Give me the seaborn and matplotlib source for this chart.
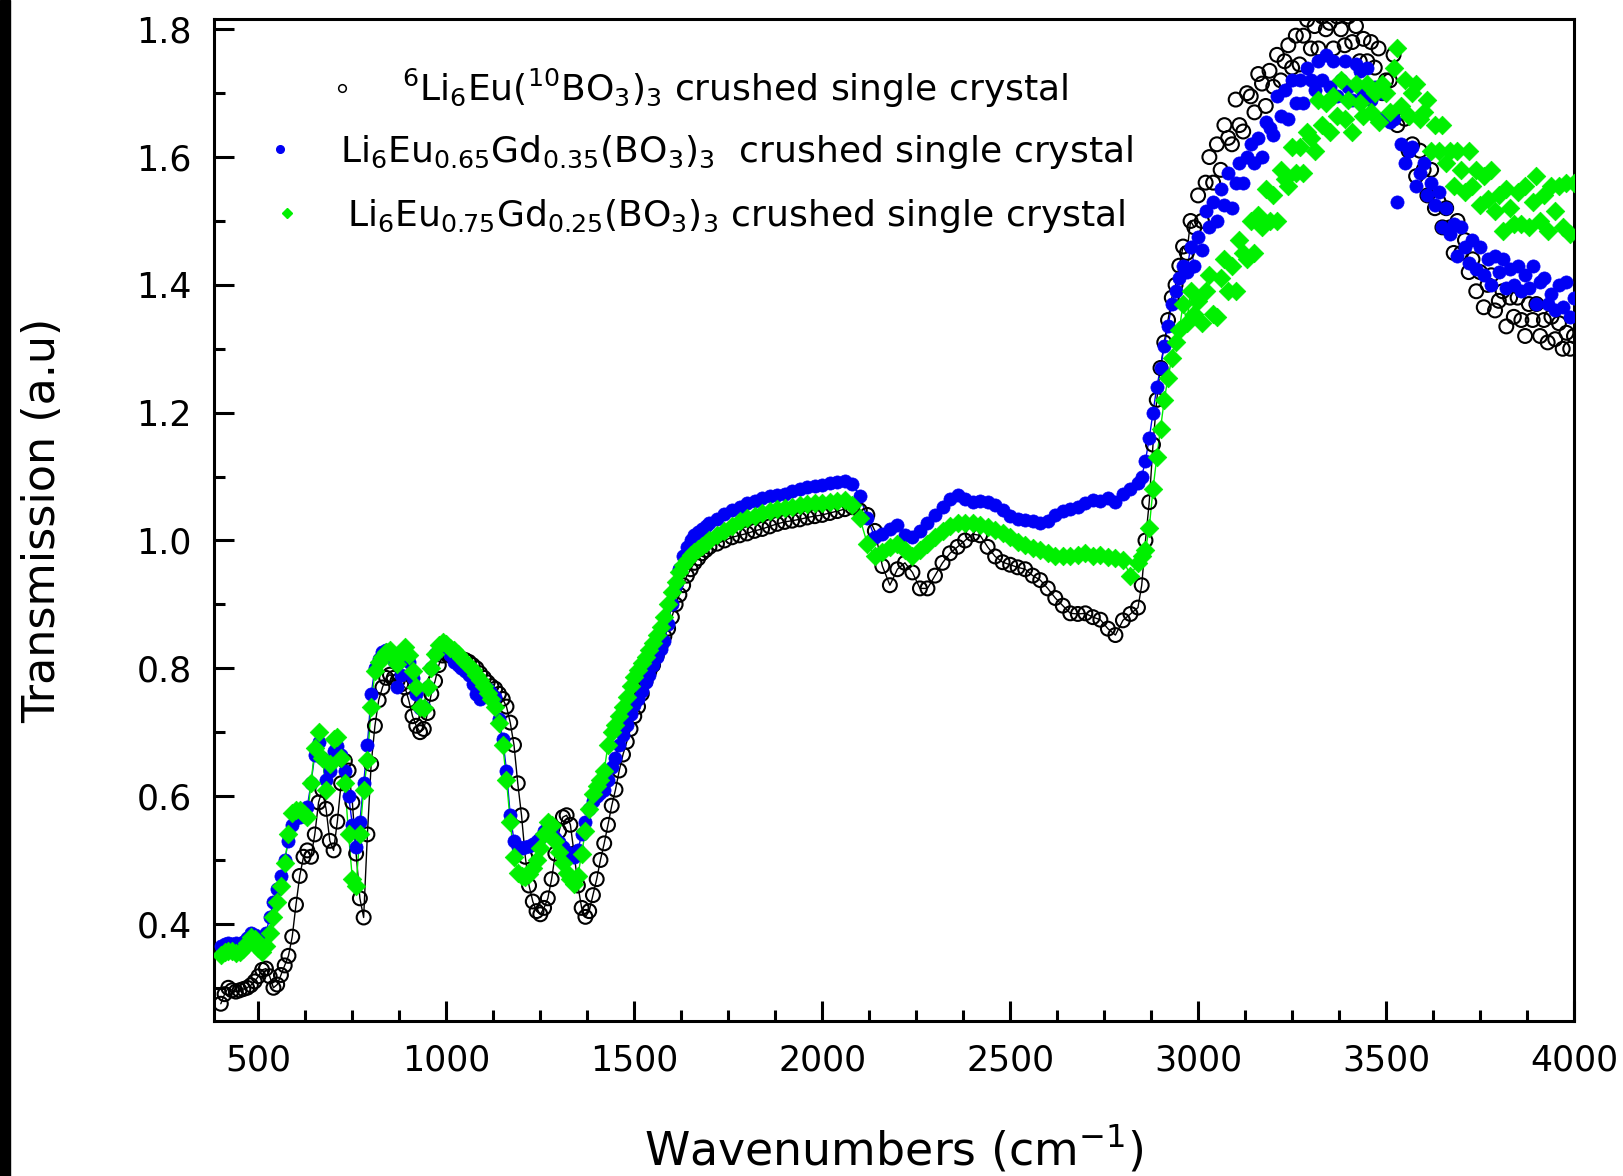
import numpy as np
import pandas as pd
import matplotlib
matplotlib.use("Agg")
import matplotlib.pyplot as plt
import seaborn as sns
from matplotlib.ticker import MultipleLocator, FormatStrFormatter
from matplotlib.lines import Line2D
from matplotlib.legend import Legend
from matplotlib.patches import Rectangle

# ---------------- data ----------------
wn_a = np.arange(400, 1700, 10)    # 400 .. 1690
wn_b = np.arange(1700, 2860, 20)   # 1700 .. 2840
wn_c = np.arange(2850, 4001, 10)   # 2850 .. 4000

black_a = [0.275, 0.290, 0.300, 0.296, 0.294, 0.296, 0.298, 0.300, 0.304, 0.310,
           0.318, 0.328, 0.330, 0.318, 0.300, 0.305, 0.320, 0.335, 0.350, 0.380,
           0.430, 0.475, 0.505, 0.515, 0.505, 0.540, 0.590, 0.610, 0.580, 0.530,
           0.515, 0.560, 0.620, 0.655, 0.640, 0.590, 0.510, 0.440, 0.410, 0.540,
           0.650, 0.710, 0.750, 0.770, 0.785, 0.790, 0.785, 0.780, 0.775, 0.770,
           0.750, 0.725, 0.710, 0.700, 0.705, 0.730, 0.760, 0.780, 0.805, 0.820,
           0.822, 0.820, 0.818, 0.816, 0.815, 0.813, 0.810, 0.805, 0.800, 0.792,
           0.785, 0.778, 0.772, 0.768, 0.760, 0.752, 0.740, 0.715, 0.680, 0.620,
           0.570, 0.505, 0.460, 0.435, 0.420, 0.415, 0.425, 0.440, 0.470, 0.510,
           0.545, 0.567, 0.570, 0.555, 0.510, 0.460, 0.425, 0.411, 0.420, 0.445,
           0.470, 0.500, 0.526, 0.555, 0.585, 0.610, 0.640, 0.665, 0.685, 0.705,
           0.725, 0.740, 0.760, 0.780, 0.795, 0.805, 0.820, 0.835, 0.850, 0.862,
           0.880, 0.900, 0.915, 0.930, 0.945, 0.955, 0.965, 0.972, 0.980, 0.985]
black_b = [0.990, 0.995, 1.000, 1.005, 1.008, 1.011, 1.015, 1.018, 1.022, 1.026,
           1.029, 1.031, 1.033, 1.036, 1.038, 1.040, 1.043, 1.046, 1.049, 1.052,
           1.047, 1.040, 1.015, 0.960, 0.930, 0.955, 0.965, 0.950, 0.925, 0.925,
           0.945, 0.965, 0.980, 0.990, 1.000, 1.010, 1.008, 0.990, 0.975, 0.966,
           0.962, 0.958, 0.955, 0.945, 0.938, 0.925, 0.910, 0.898, 0.886, 0.885,
           0.886, 0.880, 0.876, 0.862, 0.852, 0.875, 0.885, 0.895]
black_c = [0.930, 1.000, 1.060, 1.150, 1.220, 1.270, 1.310, 1.345, 1.380, 1.400,
           1.430, 1.460, 1.450, 1.500, 1.490, 1.540, 1.500, 1.560, 1.600, 1.560,
           1.620, 1.580, 1.650, 1.630, 1.620, 1.690, 1.650, 1.640, 1.700, 1.695,
           1.670, 1.730, 1.715, 1.680, 1.735, 1.710, 1.760, 1.720, 1.750, 1.775,
           1.740, 1.790, 1.745, 1.790, 1.815, 1.770, 1.805, 1.770, 1.820, 1.800,
           1.810, 1.770, 1.820, 1.800, 1.775, 1.820, 1.780, 1.805, 1.750, 1.785,
           1.750, 1.780, 1.740, 1.770, 1.700, 1.720, 1.720, 1.760, 1.650, 1.670,
           1.660, 1.610, 1.620, 1.570, 1.610, 1.580, 1.540, 1.580, 1.520, 1.530,
           1.490, 1.520, 1.490, 1.450, 1.500, 1.450, 1.470, 1.420, 1.440, 1.390,
           1.420, 1.365, 1.400, 1.415, 1.360, 1.375, 1.390, 1.335, 1.380, 1.350,
           1.380, 1.345, 1.320, 1.370, 1.345, 1.370, 1.320, 1.345, 1.310, 1.350,
           1.315, 1.340, 1.300, 1.325, 1.300, 1.320]

blue_a = [0.365, 0.368, 0.370, 0.368, 0.370, 0.368, 0.372, 0.378, 0.385, 0.383,
          0.376, 0.372, 0.385, 0.410, 0.435, 0.455, 0.475, 0.500, 0.530, 0.555,
          0.565, 0.567, 0.572, 0.583, 0.620, 0.665, 0.685, 0.660, 0.625, 0.640,
          0.670, 0.678, 0.665, 0.640, 0.600, 0.555, 0.520, 0.560, 0.620, 0.680,
          0.760, 0.800, 0.815, 0.826, 0.828, 0.822, 0.812, 0.770, 0.790, 0.822,
          0.810, 0.785, 0.760, 0.738, 0.740, 0.770, 0.800, 0.822, 0.835, 0.839,
          0.832, 0.820, 0.810, 0.805, 0.800, 0.795, 0.790, 0.775, 0.760, 0.752,
          0.765, 0.768, 0.762, 0.755, 0.720, 0.690, 0.640, 0.570, 0.530, 0.520,
          0.518, 0.520, 0.522, 0.525, 0.530, 0.535, 0.545, 0.555, 0.550, 0.535,
          0.528, 0.520, 0.512, 0.508, 0.505, 0.515, 0.540, 0.560, 0.580, 0.593,
          0.600, 0.605, 0.609, 0.625, 0.645, 0.660, 0.680, 0.695, 0.712, 0.728,
          0.742, 0.752, 0.765, 0.778, 0.790, 0.805, 0.818, 0.830, 0.842, 0.870,
          0.900, 0.930, 0.955, 0.975, 0.990, 1.000, 1.008, 1.014, 1.018, 1.022]
blue_b = [1.028, 1.034, 1.042, 1.048, 1.052, 1.058, 1.062, 1.067, 1.069, 1.071,
          1.073, 1.077, 1.080, 1.083, 1.085, 1.087, 1.090, 1.092, 1.093, 1.088,
          1.070, 1.035, 1.005, 1.010, 1.018, 1.024, 1.008, 1.005, 1.015, 1.028,
          1.040, 1.052, 1.065, 1.071, 1.065, 1.060, 1.062, 1.060, 1.055, 1.048,
          1.038, 1.033, 1.032, 1.030, 1.028, 1.030, 1.040, 1.046, 1.050, 1.052,
          1.058, 1.064, 1.062, 1.066, 1.060, 1.072, 1.080, 1.090]
blue_c = [1.100, 1.125, 1.160, 1.200, 1.240, 1.270, 1.305, 1.335, 1.370, 1.390,
          1.410, 1.430, 1.420, 1.460, 1.430, 1.475, 1.455, 1.515, 1.490, 1.530,
          1.500, 1.550, 1.525, 1.575, 1.520, 1.560, 1.590, 1.560, 1.600, 1.620,
          1.590, 1.630, 1.600, 1.655, 1.645, 1.635, 1.695, 1.665, 1.705, 1.660,
          1.720, 1.685, 1.720, 1.685, 1.740, 1.720, 1.705, 1.750, 1.720, 1.760,
          1.710, 1.750, 1.695, 1.720, 1.750, 1.710, 1.690, 1.745, 1.735, 1.700,
          1.740, 1.690, 1.710, 1.660, 1.700, 1.660, 1.655, 1.660, 1.530, 1.620,
          1.590, 1.610, 1.615, 1.555, 1.575, 1.590, 1.540, 1.560, 1.525, 1.545,
          1.490, 1.520, 1.480, 1.495, 1.445, 1.490, 1.460, 1.435, 1.470, 1.425,
          1.460, 1.415, 1.440, 1.400, 1.445, 1.420, 1.440, 1.395, 1.425, 1.400,
          1.430, 1.390, 1.415, 1.395, 1.430, 1.370, 1.405, 1.410, 1.370, 1.385,
          1.360, 1.400, 1.365, 1.405, 1.350, 1.380]

green_a = [0.352, 0.356, 0.358, 0.358, 0.355, 0.356, 0.360, 0.370, 0.380, 0.376,
           0.362, 0.356, 0.365, 0.385, 0.410, 0.435, 0.460, 0.495, 0.540, 0.573,
           0.578, 0.578, 0.572, 0.567, 0.620, 0.675, 0.700, 0.660, 0.610, 0.650,
           0.690, 0.692, 0.660, 0.620, 0.540, 0.470, 0.460, 0.540, 0.610, 0.656,
           0.740, 0.795, 0.810, 0.818, 0.825, 0.828, 0.818, 0.807, 0.822, 0.834,
           0.820, 0.795, 0.770, 0.740, 0.738, 0.770, 0.800, 0.822, 0.836, 0.841,
           0.838, 0.832, 0.828, 0.822, 0.816, 0.810, 0.804, 0.797, 0.790, 0.782,
           0.772, 0.762, 0.752, 0.740, 0.715, 0.680, 0.625, 0.560, 0.505, 0.480,
           0.475, 0.474, 0.478, 0.487, 0.500, 0.518, 0.540, 0.560, 0.555, 0.530,
           0.512, 0.495, 0.480, 0.470, 0.463, 0.475, 0.510, 0.545, 0.580, 0.604,
           0.615, 0.625, 0.640, 0.680, 0.700, 0.712, 0.725, 0.740, 0.755, 0.772,
           0.787, 0.797, 0.808, 0.818, 0.828, 0.840, 0.852, 0.865, 0.880, 0.900,
           0.920, 0.935, 0.950, 0.962, 0.970, 0.977, 0.982, 0.987, 0.992, 0.996]
green_b = [1.000, 1.008, 1.015, 1.022, 1.030, 1.035, 1.039, 1.043, 1.046, 1.049,
           1.051, 1.053, 1.055, 1.057, 1.058, 1.059, 1.060, 1.062, 1.063, 1.055,
           1.035, 0.995, 0.975, 0.982, 0.990, 0.995, 0.985, 0.975, 0.985, 0.995,
           1.005, 1.015, 1.022, 1.027, 1.027, 1.027, 1.024, 1.021, 1.016, 1.011,
           1.005, 0.998, 0.993, 0.988, 0.985, 0.980, 0.975, 0.976, 0.975, 0.978,
           0.980, 0.975, 0.978, 0.974, 0.972, 0.970, 0.945, 0.965]
green_c = [0.975, 0.985, 1.020, 1.080, 1.130, 1.175, 1.220, 1.255, 1.285, 1.310,
           1.330, 1.370, 1.340, 1.390, 1.355, 1.375, 1.340, 1.390, 1.415, 1.355,
           1.350, 1.410, 1.440, 1.390, 1.430, 1.390, 1.470, 1.450, 1.440, 1.500,
           1.450, 1.510, 1.490, 1.550, 1.500, 1.540, 1.500, 1.580, 1.565, 1.555,
           1.615, 1.575, 1.615, 1.575, 1.640, 1.630, 1.610, 1.690, 1.650, 1.685,
           1.640, 1.695, 1.665, 1.720, 1.660, 1.690, 1.640, 1.715, 1.685, 1.665,
           1.715, 1.670, 1.700, 1.655, 1.715, 1.700, 1.670, 1.740, 1.770, 1.680,
           1.720, 1.665, 1.700, 1.715, 1.660, 1.670, 1.690, 1.610, 1.650, 1.610,
           1.650, 1.590, 1.610, 1.555, 1.610, 1.580, 1.545, 1.610, 1.555, 1.580,
           1.525, 1.570, 1.535, 1.580, 1.515, 1.540, 1.485, 1.550, 1.520, 1.495,
           1.545, 1.495, 1.555, 1.490, 1.530, 1.570, 1.500, 1.540, 1.485, 1.555,
           1.515, 1.555, 1.490, 1.560, 1.480, 1.560]

labels = [r"$^{6}$Li$_{6}$Eu($^{10}$BO$_{3}$)$_{3}$ crushed single crystal",
          r"Li$_{6}$Eu$_{0.65}$Gd$_{0.35}$(BO$_{3}$)$_{3}$  crushed single crystal",
          r"Li$_{6}$Eu$_{0.75}$Gd$_{0.25}$(BO$_{3}$)$_{3}$ crushed single crystal"]
x_ticks = [500, 1000, 1500, 2000, 2500, 3000, 3500, 4000]
y_ticks = [0.4, 0.6, 0.8, 1.0, 1.2, 1.4, 1.6, 1.8]

# ---------------- build frames ----------------
wn = np.concatenate([wn_a, wn_b, wn_c])
df_black = pd.DataFrame({"wn": wn, "T": np.concatenate([black_a, black_b, black_c])})
df_blue = pd.DataFrame({"wn": wn, "T": np.concatenate([blue_a, blue_b, blue_c])})
df_green = pd.DataFrame({"wn": wn, "T": np.concatenate([green_a, green_b, green_c])})

# ---------------- style ----------------
sns.set_theme(style="ticks")
plt.rcParams["font.family"] = ["DejaVu Sans"]
plt.rcParams["mathtext.fontset"] = "dejavusans"
plt.rcParams["axes.linewidth"] = 2.2

BLUE = "#0000f5"
GREEN = "#00f000"

fig = plt.figure(figsize=(16.24, 11.76), dpi=100)
fig.patch.set_facecolor("white")
ax = fig.add_axes([0.1318, 0.1318, 0.9692 - 0.1318, 0.9838 - 0.1318])
ax.set_facecolor("white")

# thin connecting lines under the markers (smooth part of the spectra only)
for df, col in [(df_black, "black"), (df_blue, BLUE), (df_green, GREEN)]:
    sns.lineplot(data=df[df["wn"] < 2995], x="wn", y="T", color=col, lw=1.0,
                 ax=ax, sort=False, estimator=None, legend=False, zorder=1)

sns.scatterplot(data=df_black, x="wn", y="T", marker="o", s=100, ax=ax,
                legend=False, zorder=2)
coll = ax.collections[-1]
coll.set_facecolor("none")
coll.set_edgecolor("black")
coll.set_linewidth(1.5)

sns.scatterplot(data=df_blue, x="wn", y="T", marker="o", s=90, color=BLUE,
                edgecolor=BLUE, linewidth=0.5, ax=ax, legend=False, zorder=3)
sns.scatterplot(data=df_green, x="wn", y="T", marker="D", s=90, color=GREEN,
                edgecolor=GREEN, linewidth=0.5, ax=ax, legend=False, zorder=4)

# ---------------- axes ----------------
ax.set_xlim(382, 4000)
ax.set_ylim(0.248, 1.816)
ax.set_xticks(x_ticks)
ax.set_yticks(y_ticks)
ax.xaxis.set_minor_locator(MultipleLocator(125))
ax.yaxis.set_minor_locator(MultipleLocator(0.1))
ax.yaxis.set_major_formatter(FormatStrFormatter("%.1f"))
ax.tick_params(which="both", direction="in", top=False, right=False,
               width=2.2, color="black", labelcolor="black", labelsize=25, pad=16)
ax.tick_params(which="major", length=14.5)
ax.tick_params(which="minor", length=8)
for sp in ax.spines.values():
    sp.set_visible(True)
    sp.set_color("black")
    sp.set_linewidth(2.2)

ax.set_xlabel(r"Wavenumbers (cm$^{-1}$)", fontsize=33, color="black")
ax.set_ylabel("Transmission (a.u)", fontsize=32, color="black")
ax.xaxis.set_label_coords(0.5, -0.103)
ax.yaxis.set_label_coords(-0.110, 0.5)

# ---------------- legend (three single-entry legends, placed like the original) ----------------
handles = [
    Line2D([], [], ls="none", marker="o", ms=5.5, mfc="none", mec="black", mew=1.1),
    Line2D([], [], ls="none", marker="o", ms=5.5, mfc=BLUE, mec=BLUE),
    Line2D([], [], ls="none", marker="D", ms=5.0, mfc=GREEN, mec=GREEN),
]
anchors = [(0.0875, 0.931), (0.0419, 0.8673), (0.0471, 0.8034)]
for h, lab, anc in zip(handles, labels, anchors):
    leg = Legend(ax, [h], [lab], loc="center left", bbox_to_anchor=anc,
                 frameon=False, fontsize=26, handlelength=0.5,
                 handletextpad=1.41, borderpad=0, borderaxespad=0)
    for t in leg.get_texts():
        t.set_color("black")
    ax.add_artist(leg)

# thin dark strip on the left edge of the original image
fig.add_artist(Rectangle((0, 0), 10 / 1624, 1, transform=fig.transFigure,
                         color="black", zorder=0))

fig.savefig("out.png", dpi=100, facecolor="white")
